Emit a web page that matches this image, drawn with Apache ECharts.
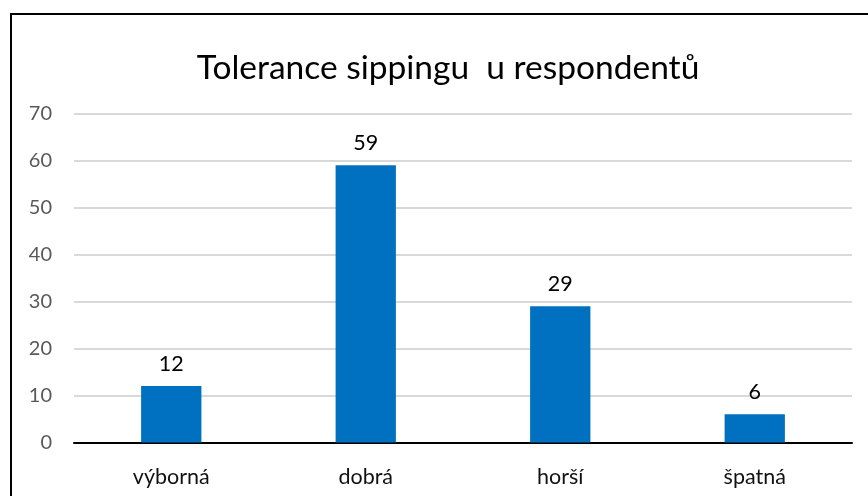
<!DOCTYPE html>
<html>
<head>
<meta charset="utf-8">
<script src="https://cdn.jsdelivr.net/npm/echarts@6/dist/echarts.min.js"></script>
<style>
  html, body { margin: 0; padding: 0; background: #fff; }
  #chart { width: 868px; height: 496px; }
</style>
</head>
<body>
<div id="chart"></div>
<script>
const categories = ['výborná', 'dobrá', 'horší', 'špatná']
const values = [12, 59, 29, 6]
const titleText = 'Tolerance sippingu  u respondentů'

const chart = echarts.init(document.getElementById('chart'))

const option = {
    animation: false,
    textStyle: { fontFamily: 'Lato' },
    title: {
        text: titleText,
        left: 443,
        textAlign: 'center',
        top: 46,
        textStyle: { fontSize: 33.5, fontWeight: 'normal', color: '#000', fontFamily: 'Lato' }
    },
    graphic: [
        {
            type: 'rect',
            shape: { x: 11, y: 14, width: 900, height: 600 },
            style: { fill: 'none', stroke: '#000', lineWidth: 2 },
            silent: true
        }
    ],
    grid: { left: 74, right: 16, top: 113.5, bottom: 53.5 },
    xAxis: {
        type: 'category',
        data: categories,
        axisLine: { lineStyle: { color: '#000', width: 2 } },
        axisTick: { show: false },
        axisLabel: { color: '#111', fontSize: 21.5, margin: 24 }
    },
    yAxis: {
        type: 'value',
        min: 0,
        max: 70,
        interval: 10,
        axisLine: { show: false },
        axisTick: { show: false },
        splitLine: { lineStyle: { color: '#d9d9d9', width: 2 } },
        axisLabel: { color: '#595959', fontSize: 20, margin: 22, padding: [7, 0, 0, 0] }
    },
    series: [
        {
            type: 'bar',
            data: values,
            barWidth: '31%',
            itemStyle: { color: '#0070c0' },
            label: {
                show: true,
                position: 'top',
                distance: 11,
                color: '#000',
                fontSize: 21.5
            }
        }
    ]
}

chart.setOption(option)
</script>
</body>
</html>
